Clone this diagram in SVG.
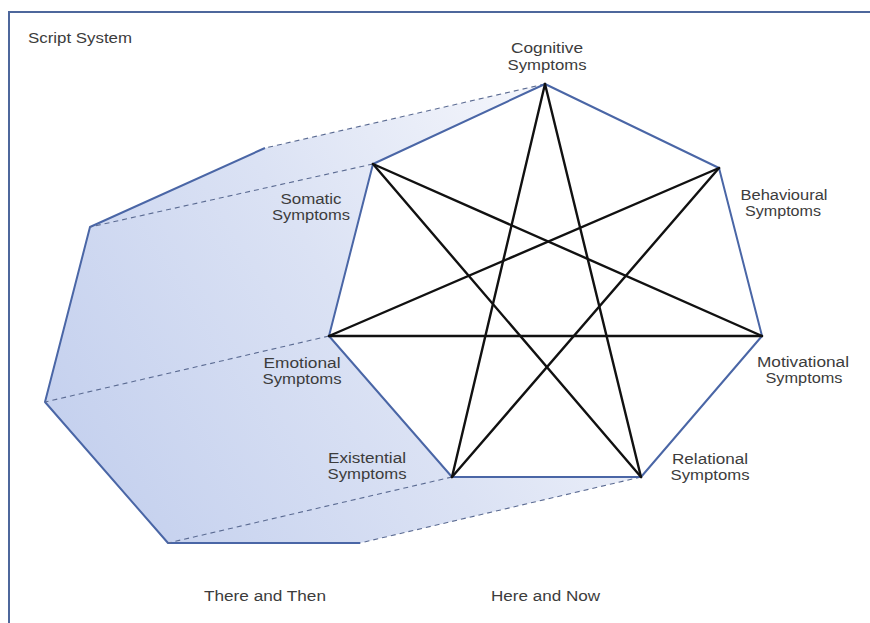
<svg xmlns="http://www.w3.org/2000/svg" width="870" height="623" viewBox="0 0 870 623">
<defs>
<linearGradient id="shade" gradientUnits="userSpaceOnUse" x1="60" y1="460" x2="560" y2="150">
<stop offset="0" stop-color="#c4d0ee"/>
<stop offset="0.55" stop-color="#dbe2f4"/>
<stop offset="1" stop-color="#f3f5fb"/>
</linearGradient>
<style>
.lbl{font-family:"Liberation Sans",Arial,sans-serif;font-size:14px;fill:#3c3c3c;text-anchor:middle}
.free{font-family:"Liberation Sans",Arial,sans-serif;font-size:14px;fill:#3c3c3c}
.edge{fill:none;stroke:#4a66a6;stroke-width:2;stroke-linejoin:round}
.dash{fill:none;stroke:#5b6b92;stroke-width:1.1;stroke-dasharray:5 4}
.star{stroke:#111;stroke-width:2.4;stroke-linecap:round}
</style>
</defs>
<rect width="870" height="623" fill="#fff"/>
<path d="M9,623 V12 H870" fill="none" stroke="#4d679c" stroke-width="2"/>
<text class="free" x="28" y="43" textLength="104" lengthAdjust="spacingAndGlyphs">Script System</text>

<g id="shadow">
<polygon points="545,84 265,148 90,227 45,402 168,543 360,543 641,477 452,477 329,336 373,164" fill="url(#shade)"/>
<polyline class="edge" points="265,148 90,227 45,402 168,543 360,543"/>
<line class="dash" x1="545" y1="84" x2="265" y2="148"/>
<line class="dash" x1="373" y1="164" x2="90" y2="227"/>
<line class="dash" x1="329" y1="336" x2="45" y2="402"/>
<line class="dash" x1="452" y1="477" x2="168" y2="543"/>
<line class="dash" x1="641" y1="477" x2="360" y2="543"/>
</g>

<g id="heptagon">
<polygon class="edge" points="545,84 719,168 762,336 641,477 452,477 329,336 373,164"/>
</g>

<g id="connectors">
<line class="star" x1="545" y1="84" x2="641" y2="477"/>
<line class="star" x1="641" y1="477" x2="373" y2="164"/>
<line class="star" x1="373" y1="164" x2="762" y2="336"/>
<line class="star" x1="762" y1="336" x2="329" y2="336"/>
<line class="star" x1="329" y1="336" x2="719" y2="168"/>
<line class="star" x1="719" y1="168" x2="452" y2="477"/>
<line class="star" x1="452" y1="477" x2="545" y2="84"/>
</g>

<g id="node-cognitive">
<text class="lbl" x="547" y="53" textLength="72" lengthAdjust="spacingAndGlyphs">Cognitive</text>
<text class="lbl" x="547" y="70" textLength="79" lengthAdjust="spacingAndGlyphs">Symptoms</text>
</g>
<g id="node-behavioural">
<text class="lbl" x="784" y="200" textLength="87" lengthAdjust="spacingAndGlyphs">Behavioural</text>
<text class="lbl" x="783" y="216" textLength="76" lengthAdjust="spacingAndGlyphs">Symptoms</text>
</g>
<g id="node-motivational">
<text class="lbl" x="803" y="367" textLength="92" lengthAdjust="spacingAndGlyphs">Motivational</text>
<text class="lbl" x="804" y="383" textLength="77" lengthAdjust="spacingAndGlyphs">Symptoms</text>
</g>
<g id="node-relational">
<text class="lbl" x="710" y="464" textLength="76" lengthAdjust="spacingAndGlyphs">Relational</text>
<text class="lbl" x="710" y="480" textLength="79" lengthAdjust="spacingAndGlyphs">Symptoms</text>
</g>
<g id="node-existential">
<text class="lbl" x="367" y="463" textLength="78" lengthAdjust="spacingAndGlyphs">Existential</text>
<text class="lbl" x="367" y="479" textLength="79" lengthAdjust="spacingAndGlyphs">Symptoms</text>
</g>
<g id="node-emotional">
<text class="lbl" x="302" y="368" textLength="77" lengthAdjust="spacingAndGlyphs">Emotional</text>
<text class="lbl" x="302" y="384" textLength="79" lengthAdjust="spacingAndGlyphs">Symptoms</text>
</g>
<g id="node-somatic">
<text class="lbl" x="311" y="204" textLength="61" lengthAdjust="spacingAndGlyphs">Somatic</text>
<text class="lbl" x="311" y="220" textLength="78" lengthAdjust="spacingAndGlyphs">Symptoms</text>
</g>

<text class="free" x="204" y="601" textLength="122" lengthAdjust="spacingAndGlyphs">There and Then</text>
<text class="free" x="491" y="601" textLength="109" lengthAdjust="spacingAndGlyphs">Here and Now</text>
</svg>
